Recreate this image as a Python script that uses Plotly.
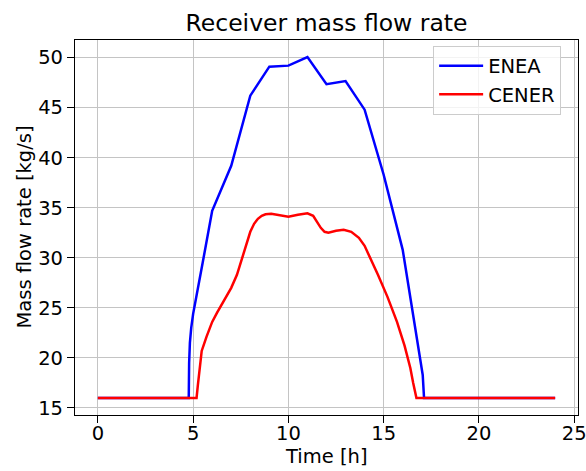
import plotly.graph_objects as go

# ENEA series
enea_t = [0, 4.77, 4.79, 4.83, 4.9, 5.0, 5.5, 6.0, 7.0, 8.0, 9.0, 10.0, 11.0, 12.0, 13.0, 14.0, 15.0, 16.0, 17.05, 17.12, 24]
enea_m = [16, 16, 19.5, 21.5, 23.0, 24.4, 29.5, 34.7, 39.2, 46.2, 49.1, 49.2, 50.06, 47.35, 47.65, 44.8, 38.3, 30.8, 18.3, 16, 16]

# CENER series
cener_t = [0, 5.18, 5.25, 5.33, 5.45, 5.7, 6.0, 6.25, 6.6, 7.0, 7.3, 7.6, 7.8, 8.0, 8.2, 8.4, 8.6, 8.8, 9.1, 9.5, 10.0, 10.5,
           11.0, 11.3, 11.5, 11.7, 11.9, 12.1, 12.5, 12.9, 13.3, 13.7, 14.0, 14.3, 14.7, 15.2, 15.7, 16.1, 16.4, 16.55, 16.72, 24]
cener_m = [16, 16, 17.3, 19.0, 20.7, 22.1, 23.6, 24.5, 25.6, 27.0, 28.3, 30.2, 31.5, 32.6, 33.4, 33.9, 34.2, 34.35, 34.4, 34.25, 34.1, 34.3,
           34.45, 34.2, 33.6, 33.0, 32.6, 32.5, 32.7, 32.8, 32.6, 32.0, 31.2, 30.0, 28.3, 26.1, 23.6, 21.2, 19.0, 17.5, 16, 16]

xticks = [0, 5, 10, 15, 20, 25]
yticks = [15, 20, 25, 30, 35, 40, 45, 50]

FONT = "DejaVu Sans"

fig = go.Figure()
fig.add_trace(go.Scatter(x=enea_t, y=enea_m, mode="lines", name="ENEA",
                         line=dict(color="#0000ff", width=2.5)))
fig.add_trace(go.Scatter(x=cener_t, y=cener_m, mode="lines", name="CENER",
                         line=dict(color="#ff0000", width=2.5)))

axis_common = dict(
    showline=True, linecolor="black", linewidth=1.2, mirror=True,
    ticks="outside", ticklen=7, tickwidth=1.2, tickcolor="black",
    showgrid=True, gridcolor="#c4c4c4", gridwidth=1.2,
    zeroline=False, automargin=False, ticklabeloverflow="allow",
    tickfont=dict(family=FONT, size=19.5, color="black"),
)

fig.update_layout(
    width=586, height=471,
    margin=dict(l=75, r=8, t=40, b=56),
    paper_bgcolor="white", plot_bgcolor="white",
    font=dict(family=FONT, color="black"),
    title=dict(text="Receiver mass flow rate", x=0.5, xref="paper", xanchor="center",
               y=1 - 23 / 471, yref="container", yanchor="middle",
               font=dict(family=FONT, size=23.5, color="black")),
    xaxis=dict(range=[-1.2, 25.2], tickvals=xticks, ticklabelstandoff=-7, **axis_common),
    yaxis=dict(range=[14.3, 51.76], tickvals=yticks, **axis_common),
    legend=dict(x=0.712, y=0.985, xanchor="left", yanchor="top", itemwidth=44,
                bgcolor="rgba(255,255,255,0.8)", bordercolor="#cccccc", borderwidth=1,
                font=dict(family=FONT, size=19.5, color="black")),
    showlegend=True,
    annotations=[
        dict(text="Time [h]", xref="paper", yref="paper", x=0.5, y=(415 - 456) / 375,
             xanchor="center", yanchor="middle", showarrow=False,
             font=dict(family=FONT, size=19.5, color="black")),
        dict(text="Mass flow rate [kg/s]", xref="paper", yref="paper", x=(24 - 75) / 503, y=0.5,
             xanchor="center", yanchor="middle", textangle=-90, showarrow=False,
             font=dict(family=FONT, size=19.5, color="black")),
    ],
)

fig.write_html("out.html")
